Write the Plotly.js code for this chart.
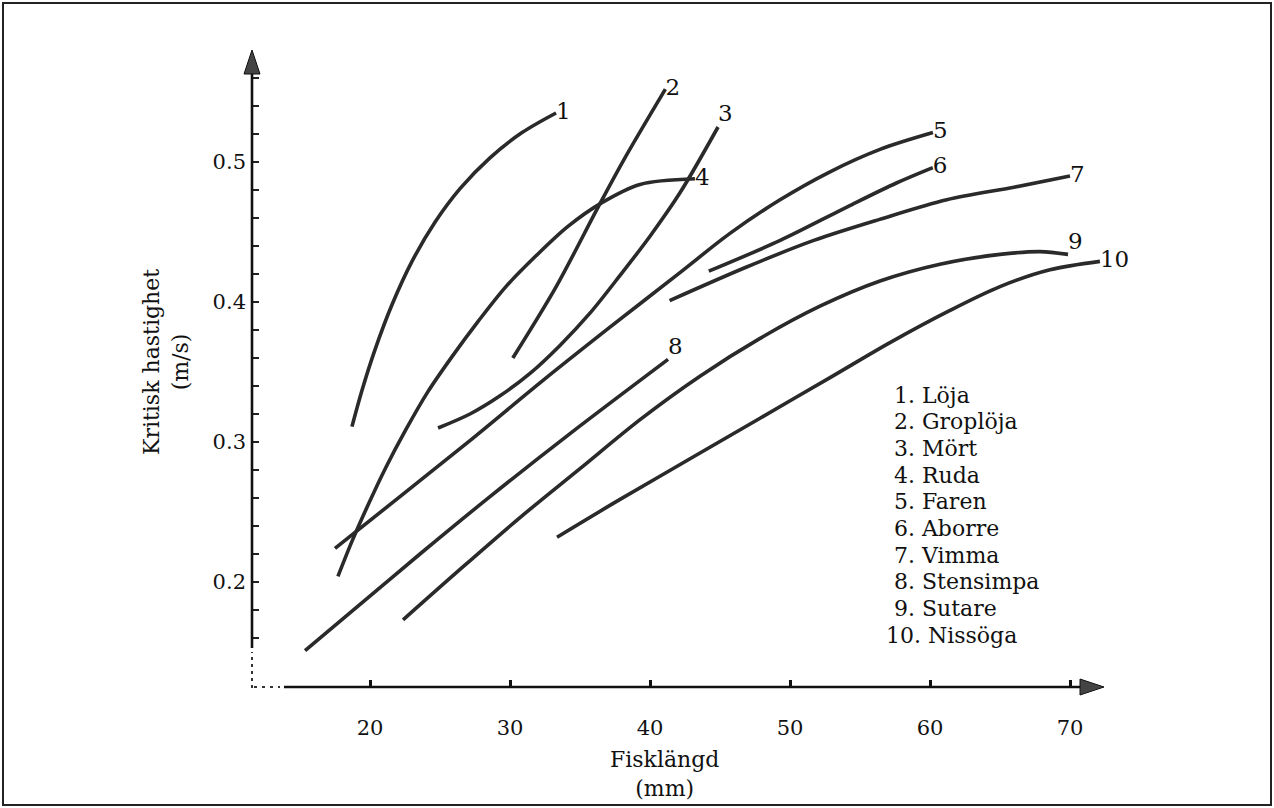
<!DOCTYPE html>
<html>
<head>
<meta charset="utf-8">
<script src="https://cdn.plot.ly/plotly-3.0.1.min.js"></script>
<style>html,body{margin:0;padding:0;background:#fff;}#chart{width:1274px;height:808px;}</style>
</head>
<body>
<div id="chart"></div>
<script>
// ---- data (fish length in mm, critical swimming speed in m/s) ----
const species = ['Löja','Groplöja','Mört','Ruda','Faren','Aborre','Vimma','Stensimpa','Sutare','Nissöga'];

const len1 = [18.71, 19.43, 20.36, 21.57, 23.0, 24.64, 26.43, 28.57, 30.86, 33.29];
const vel1 = [0.311, 0.337, 0.366, 0.398, 0.429, 0.457, 0.481, 0.503, 0.521, 0.535];

const len2 = [30.2, 33.3, 36.2, 38.1, 41.1];
const vel2 = [0.360, 0.411, 0.466, 0.501, 0.552];

const len3 = [24.86, 27.14, 29.29, 31.43, 33.57, 35.71, 37.86, 40.0, 42.14, 44.86];
const vel3 = [0.310, 0.320, 0.333, 0.349, 0.369, 0.392, 0.419, 0.447, 0.478, 0.525];

const len4 = [17.71, 18.71, 19.86, 21.14, 22.57, 24.14, 25.86, 27.71, 29.71, 31.86, 34.14, 36.57, 39.29, 43.21];
const vel4 = [0.204, 0.229, 0.255, 0.282, 0.309, 0.336, 0.361, 0.386, 0.411, 0.433, 0.454, 0.471, 0.484, 0.488];

const len5 = [17.5, 22.14, 27.14, 32.36, 37.14, 42.14, 45.71, 49.29, 52.86, 56.43, 60.21];
const vel5 = [0.224, 0.261, 0.301, 0.344, 0.382, 0.421, 0.449, 0.473, 0.493, 0.509, 0.521];

const len6 = [44.2, 49.3, 54.1, 57.6, 60.2];
const vel6 = [0.422, 0.444, 0.468, 0.485, 0.496];

const len7 = [41.4, 46.9, 51.7, 56.4, 61.2, 66.0, 70.0];
const vel7 = [0.401, 0.425, 0.444, 0.459, 0.473, 0.482, 0.490];

const len8 = [15.36, 19.29, 23.57, 28.57, 34.29, 41.29];
const vel8 = [0.151, 0.184, 0.220, 0.261, 0.306, 0.359];

const len9 = [22.36, 26.43, 30.71, 35.0, 39.29, 43.57, 47.86, 52.14, 56.43, 60.71, 65.0, 67.86, 69.86];
const vel9 = [0.173, 0.209, 0.246, 0.281, 0.316, 0.347, 0.374, 0.397, 0.415, 0.427, 0.434, 0.436, 0.434];

const len10 = [33.36, 37.86, 42.86, 47.86, 52.86, 57.14, 61.43, 65.0, 68.57, 72.14];
const vel10 = [0.232, 0.259, 0.288, 0.317, 0.346, 0.371, 0.394, 0.411, 0.423, 0.429];

const curveLabels = ['1','2','3','4','5','6','7','8','9','10'];
const labelPos = ['middle right','middle right','top right','middle right','middle right',
                  'middle right','middle right','top right','top right','middle right'];

const xTickVals = [20, 30, 40, 50, 60, 70];
const xTickText = ['20', '30', '40', '50', '60', '70'];
const yTickVals = [0.16,0.18,0.20,0.22,0.24,0.26,0.28,0.30,0.32,0.34,0.36,0.38,0.40,0.42,0.44,0.46,0.48,0.50,0.52,0.54,0.56];
const yTickText = yTickVals.map(v => (Math.abs(v*10 - Math.round(v*10)) < 1e-6) ? v.toFixed(1) : '');

const xTitle = 'Fisklängd<br>(mm)';
const yTitle = 'Kritisk hastighet<br>(m/s)';

// ---- drawing ----
const W = 1274, H = 808;
const FONT = 'DejaVu Serif, Liberation Serif, serif';
const INK = '#2a2a2a';
const X0 = 20, PX0 = 370, PXPER = 14;
const Y0 = 0.5, PY0 = 162, PYPER = 1400;
const px2x = p => X0 + (p - PX0) / PXPER;
const py2y = p => Y0 - (p - PY0) / PYPER;

const lens = [len1,len2,len3,len4,len5,len6,len7,len8,len9,len10];
const vels = [vel1,vel2,vel3,vel4,vel5,vel6,vel7,vel8,vel9,vel10];

const traces = [];
lens.forEach((L, i) => {
  traces.push({
    type: 'scatter', mode: 'lines', name: species[i],
    x: L, y: vels[i],
    line: {color: INK, width: 3.6, shape: 'spline', smoothing: 0.9},
    hoverinfo: 'skip', showlegend: false
  });
});
lens.forEach((L, i) => {
  traces.push({
    type: 'scatter', mode: 'text',
    x: [L[L.length-1]], y: [vels[i][vels[i].length-1]],
    text: [curveLabels[i]], textposition: labelPos[i],
    textfont: {family: FONT, size: 23, color: '#111'},
    cliponaxis: false, hoverinfo: 'skip', showlegend: false
  });
});

const axisY = 687;
const axisX = 252;

const shapes = [
  {type:'rect', xref:'paper', yref:'paper', x0: 3/W, x1: 1-3/W, y0: 3/H, y1: 1-3/H,
   line:{color:'#222', width:2}},
  {type:'line', x0: px2x(axisX), x1: px2x(axisX), y0: py2y(648), y1: py2y(66),
   line:{color:'#111', width:2.6}},
  {type:'line', x0: px2x(axisX), x1: px2x(axisX), y0: py2y(688), y1: py2y(652),
   line:{color:'#333', width:2, dash:'3px,4px'}},
  {type:'line', x0: px2x(284), x1: px2x(1090), y0: py2y(axisY), y1: py2y(axisY),
   line:{color:'#111', width:2.6}},
  {type:'line', x0: px2x(254), x1: px2x(280), y0: py2y(axisY), y1: py2y(axisY),
   line:{color:'#333', width:2, dash:'3px,5px'}},
  {type:'path', path: `M ${px2x(axisX)} ${py2y(50)} L ${px2x(axisX-8)} ${py2y(74)} L ${px2x(axisX+8)} ${py2y(74)} Z`,
   fillcolor:'#444', line:{color:'#111', width:1}},
  {type:'path', path: `M ${px2x(1104)} ${py2y(axisY)} L ${px2x(1080)} ${py2y(axisY-8)} L ${px2x(1080)} ${py2y(axisY+8)} Z`,
   fillcolor:'#444', line:{color:'#111', width:1}}
];

const annotations = [
  {xref:'paper', yref:'paper', x: 166/W, y: 1-362/H, text: yTitle, textangle: -90,
   showarrow:false, font:{family:FONT, size:22, color:'#111'}, xanchor:'center', yanchor:'middle'},
  {xref:'paper', yref:'paper', x: 664/W, y: 1-774/H, text: xTitle,
   showarrow:false, font:{family:FONT, size:22, color:'#111'}, xanchor:'center', yanchor:'middle'}
];
species.forEach((s, i) => {
  const lx = (i === 9) ? 884 : 892;
  annotations.push({
    xref:'paper', yref:'paper', x: lx/W, y: 1 - (395 + i*26.7)/H,
    text: curveLabels[i] + '. ' + s, showarrow:false, xanchor:'left', yanchor:'middle',
    font:{family:FONT, size:22, color:'#111'}
  });
});

const layout = {
  width: W, height: H,
  margin: {l:0, r:0, t:0, b:0, pad:0},
  paper_bgcolor: '#fff', plot_bgcolor: '#fff',
  showlegend: false,
  xaxis: {
    range: [px2x(0), px2x(W)], anchor: 'free', position: 1 - axisY/H,
    showgrid:false, zeroline:false, showline:false,
    tickmode:'array', tickvals: xTickVals, ticktext: xTickText,
    ticks:'inside', ticklen: 7, tickwidth: 3, tickcolor:'#111',
    ticklabelstandoff: 26,
    tickfont:{family:FONT, size:21, color:'#111'}, fixedrange:true
  },
  yaxis: {
    range: [py2y(H), py2y(0)], anchor: 'free', position: axisX/W,
    showgrid:false, zeroline:false, showline:false,
    tickmode:'array', tickvals: yTickVals, ticktext: yTickText,
    ticks:'inside', ticklen: 6, tickwidth: 2, tickcolor:'#222',
    ticklabelstandoff: 6,
    tickfont:{family:FONT, size:21, color:'#111'}, fixedrange:true
  },
  shapes: shapes,
  annotations: annotations
};

Plotly.newPlot('chart', traces, layout, {displayModeBar:false, staticPlot:true});
</script>
</body>
</html>
